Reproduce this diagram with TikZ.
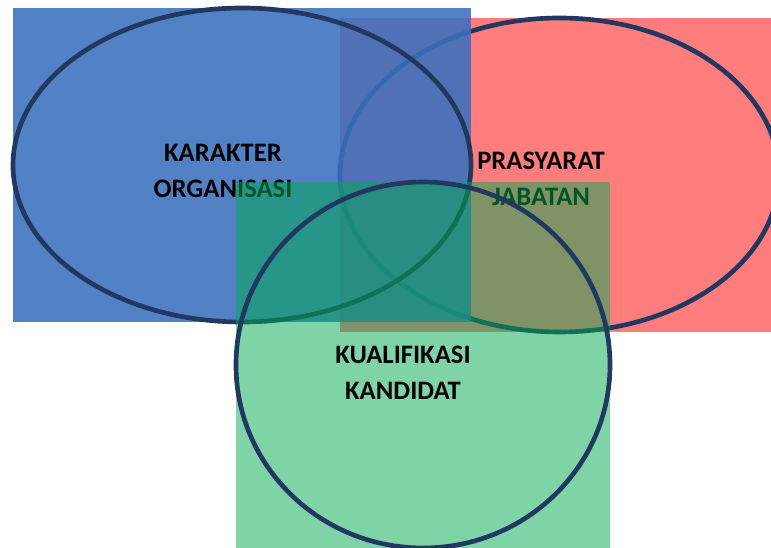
\documentclass[tikz,border=0pt]{standalone}
\usepackage{fontspec}
\setmainfont{Carlito}
\usepackage{tikz}
\usetikzlibrary{shapes,positioning}
\definecolor{rimnavy}{RGB}{33,56,96}
\definecolor{fillblue}{RGB}{58,112,190}
\definecolor{fillred}{RGB}{255,125,125}
\definecolor{fillgreen}{RGB}{0,170,80}

\begin{document}
\begin{tikzpicture}[x=0.75pt,y=-0.75pt]
    \tikzstyle{every node}=[inner sep=0pt, outer sep=0pt]
    \tikzstyle{ring}=[ellipse, draw=rimnavy, line width=3.5pt]
    \tikzstyle{caption}=[align=center, font=\fontsize{20}{27}\selectfont\bfseries]

    \useasboundingbox (0,0) rectangle (771,548);

    % jabatan (red)
    \node[rectangle, fill=fillred, minimum width=329.25pt, minimum height=235.5pt] (jab) at (559.5,175) {};
    \node[ring, minimum width=329.25pt, minimum height=235.5pt] (jabring) at (jab.center) {};

    % organisasi (blue)
    \node[rectangle, fill=fillblue, fill opacity=0.88, minimum width=343.5pt, minimum height=235.5pt] (org) at (242,165) {};
    \node[ring, minimum width=343.5pt, minimum height=235.5pt] (orgring) at (org.center) {};

    \node[caption] (orgtext) at (223,171) {KARAKTER\\ORGANISASI};
    \node[caption] (jabtext) at (541,179) {PRASYARAT\\JABATAN};

    % kandidat (green)
    \node[rectangle, fill=fillgreen, fill opacity=0.5, minimum width=280.5pt, minimum height=274.5pt] (kan) at (423,365) {};
    \node[ring, minimum width=280.5pt, minimum height=274.5pt] (kanring) at (kan.center) {};

    \node[caption] (kantext) at (403,373) {KUALIFIKASI\\KANDIDAT};
\end{tikzpicture}
\end{document}
